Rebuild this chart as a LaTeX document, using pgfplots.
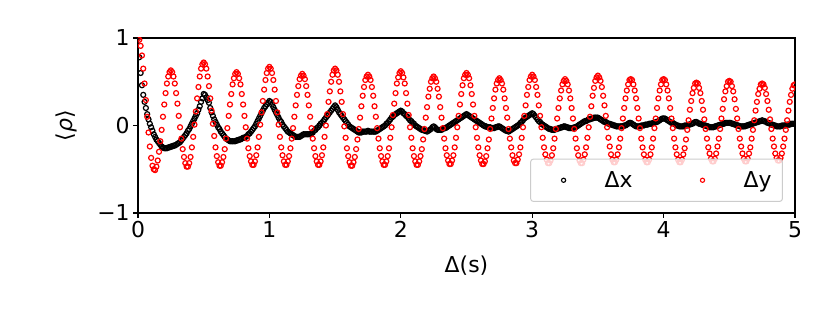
\documentclass[border=0pt]{standalone}
\usepackage{fontspec}
\setmainfont{DejaVu Sans}
\usepackage{pgfplots}
\usepackage{pgfplotstable}
\pgfplotsset{compat=1.18}
\pgfplotstableread{
t dx dy
0.00 1.00 1.00
0.01 0.78 0.98
0.02 0.60 0.91
0.03 0.46 0.80
0.04 0.35 0.65
0.05 0.27 0.48
0.06 0.20 0.29
0.07 0.13 0.10
0.08 0.07 -0.08
0.09 0.02 -0.24
0.10 -0.02 -0.37
0.11 -0.06 -0.46
0.12 -0.10 -0.50
0.13 -0.13 -0.51
0.14 -0.16 -0.47
0.15 -0.18 -0.40
0.16 -0.20 -0.30
0.17 -0.22 -0.18
0.18 -0.24 -0.05
0.19 -0.25 0.10
0.20 -0.26 0.24
0.21 -0.26 0.37
0.22 -0.26 0.48
0.23 -0.25 0.56
0.24 -0.25 0.61
0.25 -0.24 0.63
0.26 -0.24 0.61
0.27 -0.23 0.56
0.28 -0.23 0.48
0.29 -0.22 0.37
0.30 -0.21 0.25
0.31 -0.20 0.11
0.32 -0.19 -0.02
0.33 -0.17 -0.15
0.34 -0.15 -0.27
0.35 -0.13 -0.36
0.36 -0.11 -0.43
0.37 -0.09 -0.47
0.38 -0.06 -0.47
0.39 -0.04 -0.43
0.40 -0.01 -0.36
0.41 0.02 -0.25
0.42 0.05 -0.13
0.43 0.08 0.01
0.44 0.11 0.16
0.45 0.14 0.31
0.46 0.18 0.44
0.47 0.22 0.56
0.48 0.27 0.65
0.49 0.31 0.70
0.50 0.36 0.72
0.51 0.35 0.70
0.52 0.32 0.65
0.53 0.29 0.56
0.54 0.26 0.45
0.55 0.20 0.31
0.56 0.15 0.17
0.57 0.11 0.02
0.58 0.07 -0.12
0.59 0.04 -0.25
0.60 0.01 -0.35
0.61 -0.02 -0.42
0.62 -0.04 -0.46
0.63 -0.07 -0.46
0.64 -0.09 -0.42
0.65 -0.11 -0.36
0.66 -0.13 -0.27
0.67 -0.15 -0.15
0.68 -0.16 -0.03
0.69 -0.17 0.11
0.70 -0.18 0.24
0.71 -0.18 0.36
0.72 -0.18 0.47
0.73 -0.18 0.54
0.74 -0.18 0.59
0.75 -0.17 0.61
0.76 -0.17 0.59
0.77 -0.16 0.54
0.78 -0.16 0.47
0.79 -0.15 0.36
0.80 -0.14 0.24
0.81 -0.14 0.11
0.82 -0.13 -0.02
0.83 -0.12 -0.15
0.84 -0.10 -0.26
0.85 -0.09 -0.35
0.86 -0.07 -0.41
0.87 -0.05 -0.45
0.88 -0.03 -0.45
0.89 -0.01 -0.41
0.90 0.02 -0.34
0.91 0.05 -0.25
0.92 0.08 -0.13
0.93 0.11 0.01
0.94 0.14 0.15
0.95 0.17 0.28
0.96 0.20 0.41
0.97 0.22 0.52
0.98 0.24 0.60
0.99 0.26 0.65
1.00 0.28 0.67
1.01 0.27 0.65
1.02 0.24 0.60
1.03 0.21 0.52
1.04 0.18 0.41
1.05 0.15 0.28
1.06 0.12 0.15
1.07 0.09 0.01
1.08 0.06 -0.13
1.09 0.04 -0.25
1.10 0.01 -0.34
1.11 -0.01 -0.41
1.12 -0.03 -0.45
1.13 -0.05 -0.45
1.14 -0.07 -0.41
1.15 -0.08 -0.35
1.16 -0.09 -0.26
1.17 -0.10 -0.15
1.18 -0.11 -0.03
1.19 -0.12 0.10
1.20 -0.13 0.23
1.21 -0.13 0.35
1.22 -0.13 0.45
1.23 -0.13 0.53
1.24 -0.12 0.57
1.25 -0.11 0.59
1.26 -0.10 0.57
1.27 -0.10 0.53
1.28 -0.10 0.45
1.29 -0.10 0.35
1.30 -0.10 0.23
1.31 -0.10 0.10
1.32 -0.09 -0.03
1.33 -0.08 -0.15
1.34 -0.06 -0.26
1.35 -0.05 -0.35
1.36 -0.03 -0.41
1.37 -0.02 -0.45
1.38 0.00 -0.45
1.39 0.02 -0.41
1.40 0.03 -0.34
1.41 0.05 -0.25
1.42 0.07 -0.13
1.43 0.09 0.00
1.44 0.11 0.13
1.45 0.13 0.27
1.46 0.15 0.39
1.47 0.17 0.50
1.48 0.19 0.58
1.49 0.21 0.63
1.50 0.23 0.65
1.51 0.21 0.63
1.52 0.18 0.58
1.53 0.15 0.50
1.54 0.13 0.39
1.55 0.11 0.27
1.56 0.09 0.13
1.57 0.07 -0.01
1.58 0.05 -0.14
1.59 0.03 -0.26
1.60 0.01 -0.35
1.61 -0.01 -0.42
1.62 -0.02 -0.46
1.63 -0.03 -0.46
1.64 -0.04 -0.42
1.65 -0.05 -0.36
1.66 -0.06 -0.27
1.67 -0.07 -0.16
1.68 -0.08 -0.04
1.69 -0.08 0.09
1.70 -0.08 0.22
1.71 -0.07 0.34
1.72 -0.07 0.44
1.73 -0.07 0.52
1.74 -0.07 0.56
1.75 -0.06 0.58
1.76 -0.07 0.56
1.77 -0.07 0.52
1.78 -0.07 0.44
1.79 -0.07 0.34
1.80 -0.07 0.22
1.81 -0.07 0.10
1.82 -0.06 -0.03
1.83 -0.05 -0.15
1.84 -0.04 -0.26
1.85 -0.03 -0.35
1.86 -0.02 -0.41
1.87 -0.01 -0.45
1.88 0.00 -0.45
1.89 0.02 -0.41
1.90 0.03 -0.35
1.91 0.05 -0.26
1.92 0.07 -0.14
1.93 0.09 -0.02
1.94 0.10 0.12
1.95 0.12 0.25
1.96 0.13 0.37
1.97 0.14 0.48
1.98 0.15 0.55
1.99 0.16 0.60
2.00 0.17 0.62
2.01 0.16 0.60
2.02 0.14 0.55
2.03 0.13 0.48
2.04 0.11 0.37
2.05 0.10 0.25
2.06 0.08 0.12
2.07 0.06 -0.02
2.08 0.05 -0.14
2.09 0.03 -0.26
2.10 0.02 -0.35
2.11 0.00 -0.41
2.12 -0.01 -0.45
2.13 -0.02 -0.45
2.14 -0.03 -0.41
2.15 -0.04 -0.35
2.16 -0.05 -0.27
2.17 -0.05 -0.16
2.18 -0.06 -0.04
2.19 -0.06 0.09
2.20 -0.07 0.21
2.21 -0.06 0.33
2.22 -0.05 0.42
2.23 -0.04 0.50
2.24 -0.02 0.54
2.25 -0.01 0.56
2.26 -0.02 0.54
2.27 -0.04 0.50
2.28 -0.05 0.42
2.29 -0.05 0.33
2.30 -0.05 0.21
2.31 -0.05 0.09
2.32 -0.04 -0.03
2.33 -0.03 -0.15
2.34 -0.03 -0.26
2.35 -0.02 -0.34
2.36 -0.01 -0.40
2.37 0.00 -0.44
2.38 0.01 -0.44
2.39 0.02 -0.40
2.40 0.03 -0.34
2.41 0.04 -0.25
2.42 0.05 -0.14
2.43 0.06 -0.02
2.44 0.07 0.11
2.45 0.08 0.24
2.46 0.09 0.36
2.47 0.10 0.46
2.48 0.11 0.54
2.49 0.12 0.58
2.50 0.13 0.60
2.51 0.12 0.58
2.52 0.11 0.54
2.53 0.10 0.46
2.54 0.09 0.36
2.55 0.08 0.24
2.56 0.07 0.11
2.57 0.06 -0.02
2.58 0.05 -0.14
2.59 0.04 -0.25
2.60 0.03 -0.34
2.61 0.02 -0.40
2.62 0.01 -0.44
2.63 0.00 -0.44
2.64 -0.01 -0.41
2.65 -0.01 -0.35
2.66 -0.02 -0.26
2.67 -0.02 -0.16
2.68 -0.02 -0.04
2.69 -0.03 0.08
2.70 -0.03 0.20
2.71 -0.03 0.31
2.72 -0.02 0.41
2.73 -0.02 0.48
2.74 -0.01 0.52
2.75 -0.01 0.54
2.76 -0.02 0.52
2.77 -0.03 0.48
2.78 -0.04 0.41
2.79 -0.05 0.31
2.80 -0.06 0.20
2.81 -0.06 0.09
2.82 -0.07 -0.04
2.83 -0.06 -0.15
2.84 -0.05 -0.25
2.85 -0.04 -0.34
2.86 -0.03 -0.40
2.87 -0.02 -0.43
2.88 -0.01 -0.43
2.89 0.00 -0.39
2.90 0.01 -0.33
2.91 0.03 -0.25
2.92 0.04 -0.14
2.93 0.06 -0.02
2.94 0.08 0.11
2.95 0.09 0.23
2.96 0.10 0.35
2.97 0.11 0.44
2.98 0.12 0.52
2.99 0.13 0.56
3.00 0.14 0.58
3.01 0.13 0.56
3.02 0.11 0.52
3.03 0.09 0.44
3.04 0.07 0.35
3.05 0.05 0.23
3.06 0.04 0.11
3.07 0.02 -0.02
3.08 0.01 -0.14
3.09 0.00 -0.25
3.10 -0.01 -0.33
3.11 -0.02 -0.39
3.12 -0.03 -0.43
3.13 -0.04 -0.43
3.14 -0.04 -0.40
3.15 -0.05 -0.34
3.16 -0.05 -0.26
3.17 -0.05 -0.15
3.18 -0.04 -0.04
3.19 -0.04 0.08
3.20 -0.03 0.20
3.21 -0.03 0.31
3.22 -0.02 0.40
3.23 -0.02 0.47
3.24 -0.01 0.51
3.25 -0.01 0.53
3.26 -0.02 0.51
3.27 -0.02 0.47
3.28 -0.03 0.40
3.29 -0.03 0.31
3.30 -0.03 0.20
3.31 -0.03 0.08
3.32 -0.02 -0.04
3.33 -0.02 -0.15
3.34 -0.01 -0.26
3.35 0.00 -0.34
3.36 0.01 -0.40
3.37 0.02 -0.43
3.38 0.03 -0.43
3.39 0.04 -0.39
3.40 0.05 -0.33
3.41 0.05 -0.25
3.42 0.06 -0.14
3.43 0.07 -0.02
3.44 0.07 0.10
3.45 0.08 0.22
3.46 0.08 0.34
3.47 0.09 0.43
3.48 0.09 0.51
3.49 0.09 0.55
3.50 0.09 0.57
3.51 0.08 0.55
3.52 0.07 0.51
3.53 0.06 0.44
3.54 0.05 0.34
3.55 0.04 0.23
3.56 0.04 0.11
3.57 0.03 -0.02
3.58 0.02 -0.14
3.59 0.02 -0.24
3.60 0.01 -0.33
3.61 0.01 -0.39
3.62 0.00 -0.42
3.63 0.00 -0.42
3.64 -0.01 -0.39
3.65 -0.01 -0.33
3.66 -0.01 -0.25
3.67 -0.01 -0.15
3.68 -0.01 -0.03
3.69 -0.01 0.08
3.70 0.00 0.20
3.71 0.00 0.31
3.72 0.01 0.40
3.73 0.02 0.47
3.74 0.03 0.52
3.75 0.03 0.53
3.76 0.02 0.52
3.77 0.01 0.47
3.78 0.00 0.40
3.79 -0.01 0.31
3.80 -0.01 0.20
3.81 -0.01 0.08
3.82 -0.01 -0.03
3.83 0.00 -0.15
3.84 0.00 -0.25
3.85 0.00 -0.33
3.86 0.01 -0.39
3.87 0.01 -0.42
3.88 0.01 -0.42
3.89 0.02 -0.39
3.90 0.02 -0.33
3.91 0.02 -0.25
3.92 0.03 -0.15
3.93 0.03 -0.03
3.94 0.04 0.08
3.95 0.04 0.20
3.96 0.05 0.31
3.97 0.06 0.40
3.98 0.07 0.47
3.99 0.08 0.52
4.00 0.08 0.53
4.01 0.08 0.52
4.02 0.07 0.47
4.03 0.06 0.40
4.04 0.05 0.31
4.05 0.04 0.20
4.06 0.03 0.08
4.07 0.03 -0.03
4.08 0.02 -0.15
4.09 0.01 -0.25
4.10 0.00 -0.33
4.11 0.00 -0.39
4.12 -0.01 -0.42
4.13 -0.01 -0.42
4.14 -0.01 -0.39
4.15 -0.01 -0.33
4.16 0.00 -0.26
4.17 0.00 -0.16
4.18 0.00 -0.05
4.19 0.01 0.06
4.20 0.01 0.18
4.21 0.02 0.28
4.22 0.02 0.37
4.23 0.03 0.43
4.24 0.04 0.48
4.25 0.04 0.49
4.26 0.03 0.48
4.27 0.02 0.43
4.28 0.02 0.37
4.29 0.01 0.28
4.30 0.01 0.18
4.31 0.00 0.07
4.32 0.00 -0.04
4.33 -0.01 -0.15
4.34 -0.01 -0.25
4.35 -0.02 -0.32
4.36 -0.02 -0.38
4.37 -0.02 -0.41
4.38 -0.02 -0.41
4.39 -0.01 -0.38
4.40 -0.01 -0.32
4.41 0.00 -0.24
4.42 0.00 -0.15
4.43 0.01 -0.04
4.44 0.01 0.08
4.45 0.02 0.19
4.46 0.02 0.30
4.47 0.03 0.39
4.48 0.03 0.45
4.49 0.03 0.50
4.50 0.03 0.51
4.51 0.03 0.50
4.52 0.02 0.45
4.53 0.02 0.39
4.54 0.01 0.30
4.55 0.01 0.19
4.56 0.00 0.08
4.57 0.00 -0.04
4.58 -0.01 -0.15
4.59 -0.01 -0.24
4.60 -0.01 -0.32
4.61 -0.01 -0.38
4.62 -0.01 -0.41
4.63 0.00 -0.41
4.64 0.00 -0.38
4.65 0.01 -0.32
4.66 0.01 -0.25
4.67 0.02 -0.15
4.68 0.02 -0.05
4.69 0.03 0.06
4.70 0.03 0.17
4.71 0.04 0.27
4.72 0.04 0.36
4.73 0.05 0.42
4.74 0.05 0.47
4.75 0.06 0.48
4.76 0.05 0.47
4.77 0.05 0.43
4.78 0.04 0.36
4.79 0.03 0.28
4.80 0.03 0.18
4.81 0.02 0.07
4.82 0.01 -0.04
4.83 0.01 -0.15
4.84 0.00 -0.24
4.85 0.00 -0.32
4.86 -0.01 -0.37
4.87 -0.01 -0.40
4.88 -0.01 -0.40
4.89 -0.01 -0.37
4.90 0.00 -0.32
4.91 0.00 -0.24
4.92 0.00 -0.15
4.93 0.00 -0.05
4.94 0.01 0.06
4.95 0.01 0.17
4.96 0.01 0.27
4.97 0.02 0.35
4.98 0.02 0.42
4.99 0.02 0.46
5.00 0.02 0.47
}\datatable
\begin{document}
\begin{tikzpicture}
\begin{axis}[
  name=ax,
  scale only axis,
  width=657bp, height=175bp,
  xmin=0, xmax=5, ymin=-1, ymax=1,
  xtick={0,1,2,3,4,5}, xticklabels={0,1,2,3,4,5},
  ytick={-1,0,1}, yticklabels={−1,0,1},
  tick align=outside, tick pos=left,
  major tick length=4.9bp,
  every tick/.style={black, line width=1.1bp},
  axis line style={black, line width=1.1bp},
  tick label style={font=\fontsize{22}{26}\selectfont},
  label style={font=\fontsize{22}{26}\selectfont},
  xlabel={Δ(s)},
  ylabel={⟨\textit{ρ}⟩},
  xlabel style={at={(axis description cs:0.5,-0.303)}, anchor=center},
  ylabel style={at={(axis description cs:-0.109,0.5)}, anchor=center},
  clip marker paths=true,
  legend columns=2,
  legend cell align=left,
  legend style={
    at={(0.9817,0.0629)}, anchor=south east,
    draw=black!20, line width=1bp, rounded corners=3bp,
    fill=white, fill opacity=0.8, text opacity=1, draw opacity=1,
    inner xsep=9bp, inner ysep=10.5bp,
    font=\fontsize{22}{26}\selectfont,
    /tikz/every odd column/.append style={column sep=17bp},
    /tikz/every even column/.append style={column sep=44bp},
  },
  legend image code/.code={
    \path[draw=none, fill=none] (-2bp,-5bp) rectangle (44bp,5bp);
    \draw[#1, mark size=2.1bp, mark options={line width=1.1bp}] plot coordinates {(22bp,0bp)};
  },
]
\addplot[black, only marks, mark=o, mark size=2.5bp, mark options={line width=1.2bp, draw=black}] table[x=t,y=dx]{\datatable};
\addlegendentry{Δx}
\addplot[red, only marks, mark=o, mark size=2.5bp, mark options={line width=1.2bp, draw=red}] table[x=t,y=dy]{\datatable};
\addlegendentry{Δy}
\end{axis}
\path (ax.south west) ++(-138bp,-99bp) rectangle ([shift={(35bp,38bp)}]ax.north east);
\end{tikzpicture}
\end{document}
